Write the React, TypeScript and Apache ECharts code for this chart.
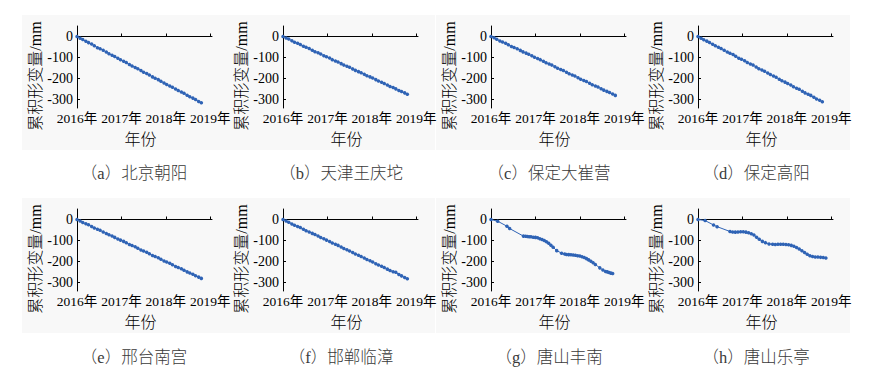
import React, { useEffect, useRef } from "react";
import * as echarts from "echarts";

// ---------- data ----------
const captions = [
  "（a）北京朝阳",
  "（b）天津王庆坨",
  "（c）保定大崔营",
  "（d）保定高阳",
  "（e）邢台南宫",
  "（f）邯郸临漳",
  "（g）唐山丰南",
  "（h）唐山乐亭",
];
const yearTicks = [2016, 2017, 2018, 2019];
const valueTicks = [0, -100, -200, -300];

const datesLinear = [
  2016.0, 2016.07, 2016.13, 2016.2, 2016.26, 2016.33, 2016.39, 2016.46, 2016.52, 2016.59,
  2016.66, 2016.72, 2016.79, 2016.85, 2016.92, 2016.98, 2017.05, 2017.11, 2017.18, 2017.24,
  2017.31, 2017.37, 2017.44, 2017.5, 2017.57, 2017.63, 2017.7, 2017.76, 2017.83, 2017.89,
  2017.96, 2018.02, 2018.09, 2018.15, 2018.22, 2018.28, 2018.35, 2018.41, 2018.48, 2018.54,
  2018.61, 2018.67, 2018.74, 2018.8,
];
const valuesA = [
  0, -8, -14, -23, -29, -36, -44, -53, -58, -65, -74, -82, -89, -95, -103, -111, -118, -124,
  -133, -140, -147, -153, -162, -170, -176, -183, -192, -198, -205, -213, -221, -228, -235,
  -241, -250, -257, -264, -270, -279, -287, -293, -300, -309, -315,
];
const valuesB = [
  0, -7, -12, -20, -27, -32, -38, -46, -51, -57, -65, -72, -77, -83, -91, -96, -102, -110,
  -116, -121, -129, -136, -141, -146, -154, -161, -167, -172, -180, -187, -192, -197, -205,
  -212, -218, -223, -231, -238, -243, -249, -257, -262, -268, -275,
];
const valuesC = [
  0, -6, -13, -21, -26, -32, -39, -47, -52, -58, -66, -73, -79, -84, -92, -99, -105, -110,
  -118, -125, -131, -136, -144, -151, -157, -162, -170, -177, -183, -188, -196, -203, -209,
  -214, -222, -229, -235, -240, -248, -255, -261, -266, -273, -280,
];
const valuesD = [
  0, -8, -15, -22, -28, -37, -44, -51, -57, -65, -74, -80, -86, -94, -103, -108, -115, -124,
  -131, -136, -145, -153, -159, -165, -174, -181, -188, -194, -203, -210, -217, -223, -231,
  -239, -246, -251, -260, -268, -275, -280, -289, -297, -303, -310,
];
const valuesE = [
  0, -7, -14, -20, -25, -33, -40, -46, -51, -59, -67, -72, -78, -85, -93, -98, -104, -111,
  -119, -124, -130, -137, -145, -150, -156, -163, -171, -176, -182, -189, -197, -202, -208,
  -215, -223, -228, -234, -241, -249, -254, -260, -267, -274, -280,
];
const valuesF = [
  0, -7, -13, -21, -27, -33, -38, -46, -53, -59, -66, -71, -78, -86, -92, -98, -105, -112,
  -118, -123, -131, -138, -144, -150, -157, -164, -170, -176, -183, -190, -196, -202, -210,
  -216, -222, -228, -236, -243, -248, -251, -262, -268, -276, -282,
];

const datesG = [
  2016.0, 2016.15, 2016.36, 2016.42, 2016.73, 2016.78, 2016.82, 2016.86, 2016.9, 2016.95,
  2017.0, 2017.05, 2017.1, 2017.15, 2017.2, 2017.25, 2017.3, 2017.35, 2017.4, 2017.48,
  2017.59, 2017.66, 2017.7, 2017.75, 2017.8, 2017.85, 2017.9, 2017.95, 2018.0, 2018.05,
  2018.1, 2018.15, 2018.2, 2018.25, 2018.3, 2018.35, 2018.45, 2018.52, 2018.58, 2018.62,
  2018.66, 2018.7, 2018.74,
];
const valuesG = [
  0, -8, -32, -43, -79, -80, -81, -82, -82, -84, -85, -87, -91, -95, -100, -106, -113, -122,
  -132, -148, -160, -164, -166, -167, -168, -169, -170, -172, -174, -177, -181, -186, -192,
  -198, -206, -214, -230, -240, -247, -249, -252, -255, -257,
];

const datesH = [
  2016.0, 2016.16, 2016.35, 2016.43, 2016.72, 2016.78, 2016.84, 2016.9, 2016.96, 2017.02,
  2017.08, 2017.14, 2017.2, 2017.26, 2017.32, 2017.38, 2017.45, 2017.52, 2017.6, 2017.68,
  2017.74, 2017.8, 2017.86, 2017.92, 2017.98, 2018.04, 2018.1, 2018.16, 2018.22, 2018.28,
  2018.34, 2018.4, 2018.46, 2018.52, 2018.58, 2018.64, 2018.7, 2018.76, 2018.82, 2018.88,
];
const valuesH = [
  0, -5, -26, -34, -57, -59, -60, -59, -58, -58, -60, -63, -68, -74, -84, -94, -104, -110,
  -116, -118, -119, -118, -118, -118, -119, -120, -123, -127, -133, -140, -149, -157, -165,
  -172, -176, -178, -178, -180, -181, -183,
];

const panelDates = [datesLinear, datesLinear, datesLinear, datesLinear, datesLinear, datesLinear, datesG, datesH];
const panelValues = [valuesA, valuesB, valuesC, valuesD, valuesE, valuesF, valuesG, valuesH];

// ---------- chart ----------
const FONT = "'Liberation Serif', 'Noto Sans CJK SC', serif";
const COLOR = "#2f63b5";

export default function App() {
  const ref = useRef<HTMLDivElement>(null);
  useEffect(() => {
    document.body.style.margin = "0";
    const chart = echarts.init(ref.current!, null, { renderer: "svg" });
    const colX = [77, 283, 491, 698];
    const rowTop = [26, 209];
    const plotW = 135;
    const plotH = 82;
    const captionX = [134, 341, 549, 756];
    const captionY = [173, 357];

    const grids: any[] = [];
    const xAxes: any[] = [];
    const yAxes: any[] = [];
    const series: any[] = [];
    const graphics: any[] = [];

    for (let i = 0; i < 8; i++) {
      const r = Math.floor(i / 4);
      const c = i % 4;
      grids.push({ left: colX[c], top: rowTop[r], width: plotW, height: plotH, containLabel: false });
      xAxes.push({
        type: "value",
        gridIndex: i,
        min: 2016,
        max: 2019.04,
        splitLine: { show: false },
        axisLine: { show: true, lineStyle: { color: "#000", width: 1 } },
        axisTick: { show: true, inside: true, length: 3, customValues: yearTicks, lineStyle: { color: "#000" } },
        axisLabel: {
          customValues: yearTicks,
          formatter: (v: number) => `${v}年`,
          fontSize: 13.5,
          color: "#000",
          margin: 4,
          fontFamily: FONT,
        },
        name: "年份",
        nameLocation: "middle",
        nameGap: 23,
        nameTextStyle: { fontSize: 16, fontWeight: 300, color: "#000", fontFamily: FONT, padding: [0, 8, 0, 0] },
      });
      yAxes.push({
        type: "value",
        gridIndex: i,
        min: -340,
        max: 50,
        splitLine: { show: false },
        axisLine: { show: true, onZero: false, lineStyle: { color: "#000", width: 1 } },
        axisTick: { show: true, inside: true, length: 3, customValues: valueTicks, lineStyle: { color: "#000" } },
        axisLabel: {
          customValues: valueTicks,
          fontSize: 14,
          color: "#000",
          margin: 4,
          fontFamily: FONT,
        },
        name: "累积形变量/mm",
        nameLocation: "middle",
        nameGap: 33,
        nameRotate: 90,
        nameTextStyle: { fontSize: 16, fontWeight: 300, color: "#000", fontFamily: FONT, padding: [0, 18, 0, 0] },
      });
      const d = panelDates[i];
      const v = panelValues[i];
      series.push({
        type: "line",
        xAxisIndex: i,
        yAxisIndex: i,
        data: d.map((x, k) => [x, v[k]]),
        symbol: "circle",
        symbolSize: 3.5,
        showSymbol: true,
        showAllSymbol: true,
        lineStyle: { color: COLOR, width: 1 },
        itemStyle: { color: COLOR, borderWidth: 0 },
        silent: true,
      });
      graphics.push({
        type: "rect",
        z: -10,
        silent: true,
        shape: { x: colX[c] - 55, y: rowTop[r] - 11, width: 207, height: 135 },
        style: { fill: "#f8f8f8" },
      });
      graphics.push({
        type: "text",
        x: captionX[c],
        y: captionY[r],
        style: {
          text: captions[i],
          font: `300 16.5px 'Liberation Serif', 'Noto Sans CJK SC', serif`,
          fill: "#3a3a3a",
          align: "center",
          verticalAlign: "middle",
        },
      });
    }

    chart.setOption({
      animation: false,
      backgroundColor: "#fff",
      grid: grids,
      xAxis: xAxes,
      yAxis: yAxes,
      series,
      graphic: graphics,
    });
    return () => chart.dispose();
  }, []);
  return <div ref={ref} style={{ width: 871, height: 373 }} />;
}
